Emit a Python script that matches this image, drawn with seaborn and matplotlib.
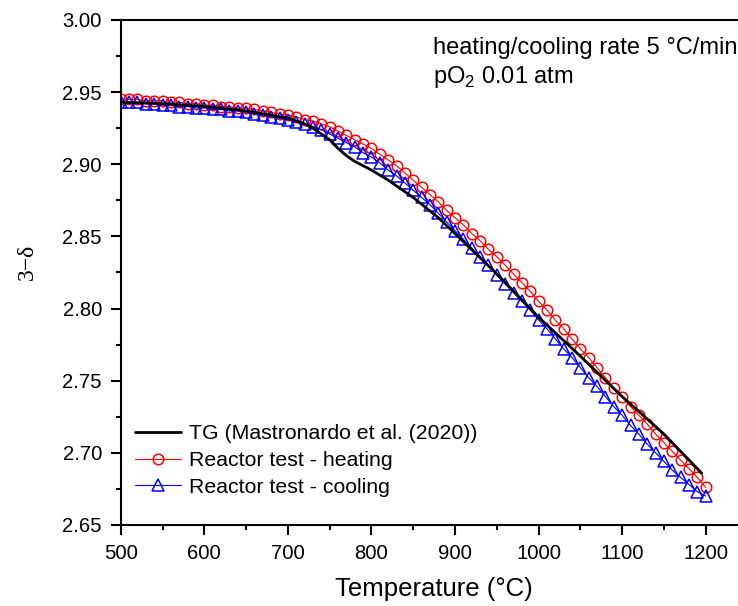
import matplotlib

matplotlib.use("Agg")
import matplotlib.pyplot as plt
import numpy as np
import pandas as pd
import seaborn as sns
from matplotlib.ticker import FixedLocator, FormatStrFormatter, MultipleLocator

# heating run (red circles), one point every 10 °C
heat_T = list(range(500, 1201, 10))
heat_val = [
    2.945, 2.945, 2.945, 2.944, 2.944, 2.944, 2.943, 2.943, 2.942, 2.942,
    2.941, 2.941, 2.940, 2.940, 2.939, 2.939, 2.938, 2.937, 2.936, 2.935,
    2.934, 2.933, 2.931, 2.930, 2.928, 2.926, 2.923, 2.920, 2.917, 2.914,
    2.911, 2.907, 2.903, 2.899, 2.894, 2.889, 2.884, 2.879, 2.874, 2.868,
    2.863, 2.858, 2.852, 2.847, 2.841, 2.836, 2.830, 2.824, 2.818, 2.812,
    2.805, 2.799, 2.792, 2.786, 2.779, 2.772, 2.766, 2.759, 2.752, 2.745,
    2.739, 2.732, 2.726, 2.720, 2.713, 2.707, 2.701, 2.695, 2.689, 2.683,
    2.676,
]

# cooling run (blue triangles)
cool_T = list(range(500, 1201, 10))
cool_val = [
    2.943, 2.943, 2.943, 2.942, 2.942, 2.941, 2.941, 2.940, 2.940, 2.939,
    2.939, 2.938, 2.938, 2.937, 2.937, 2.936, 2.935, 2.934, 2.933, 2.932,
    2.931, 2.929, 2.928, 2.926, 2.924, 2.921, 2.918, 2.915, 2.912, 2.908,
    2.905, 2.901, 2.896, 2.892, 2.887, 2.882, 2.877, 2.872, 2.866, 2.860,
    2.854, 2.848, 2.842, 2.836, 2.830, 2.823, 2.817, 2.811, 2.805, 2.799,
    2.792, 2.786, 2.779, 2.772, 2.766, 2.759, 2.752, 2.746, 2.739, 2.732,
    2.726, 2.719, 2.713, 2.706, 2.700, 2.694, 2.688, 2.683, 2.678, 2.673,
    2.670,
]

# TG curve (Mastronardo et al. 2020)
tg_T = [500, 550, 600, 650, 700, 720, 730, 740, 750, 760, 770, 780, 800,
        820, 850, 880, 900, 950, 1000, 1050, 1100, 1150, 1195]
tg_val = [2.943, 2.942, 2.940, 2.937, 2.932, 2.928, 2.925, 2.921, 2.917,
          2.911, 2.906, 2.902, 2.896, 2.889, 2.877, 2.863, 2.852, 2.824,
          2.794, 2.767, 2.739, 2.713, 2.686]

labels = ["TG (Mastronardo et al. (2020))",
          "Reactor test - heating",
          "Reactor test - cooling"]

sns.set_theme(style="ticks")
plt.rcParams["font.family"] = ["Liberation Sans", "DejaVu Sans"]
plt.rcParams["mathtext.fontset"] = "custom"
plt.rcParams["mathtext.rm"] = "Liberation Sans"
plt.rcParams["axes.linewidth"] = 1.5
for key in ["text.color", "axes.labelcolor", "axes.edgecolor",
            "xtick.color", "ytick.color", "xtick.labelcolor",
            "ytick.labelcolor"]:
    plt.rcParams[key] = "black"

df_heat = pd.DataFrame({"T": heat_T, "v": heat_val})
df_cool = pd.DataFrame({"T": cool_T, "v": cool_val})
df_tg = pd.DataFrame({"T": tg_T, "v": tg_val})

fig = plt.figure(figsize=(7.38, 6.06), dpi=100)
ax = fig.add_axes([0.1636, 0.1337, 0.8493, 0.8333])

sns.lineplot(data=df_heat, x="T", y="v", ax=ax, color="red", lw=0.8,
             marker="o", ms=7.6, mfc="none", mec="red", mew=1.1,
             sort=False, estimator=None, zorder=2)
sns.lineplot(data=df_cool, x="T", y="v", ax=ax, color="blue", lw=0.8,
             marker="^", ms=8.6, mfc="none", mec="blue", mew=1.1,
             sort=False, estimator=None, zorder=3)
sns.lineplot(data=df_tg, x="T", y="v", ax=ax, color="black", lw=2.0,
             sort=False, estimator=None, zorder=4)

lines = ax.get_lines()
ax.legend([lines[2], lines[0], lines[1]], labels, loc="lower left",
          bbox_to_anchor=(0.022, 0.056), borderaxespad=0, borderpad=0,
          frameon=False, fontsize=15.3, handlelength=2.2,
          handletextpad=0.35, labelspacing=0.36)

ax.set_xlim(500, 1250)
ax.set_ylim(2.65, 3.00)
ax.xaxis.set_major_locator(FixedLocator(list(range(500, 1201, 100))))
ax.xaxis.set_minor_locator(FixedLocator(list(range(550, 1251, 100))))
ax.yaxis.set_major_locator(MultipleLocator(0.05))
ax.yaxis.set_minor_locator(MultipleLocator(0.025))
ax.yaxis.set_major_formatter(FormatStrFormatter("%.2f"))
ax.tick_params(which="major", direction="out", length=7.0, width=1.5,
               labelsize=14.6, pad=6.5)
ax.tick_params(which="minor", direction="out", length=3.6, width=1.5)
ax.tick_params(top=False, right=False)

ax.set_xlabel("Temperature (°C)", fontsize=18.5)
ax.xaxis.set_label_coords(0.5, -0.103)
ax.set_ylabel("3\u2212\u03b4", family=["Liberation Serif", "DejaVu Serif"],
              fontsize=17)
ax.yaxis.set_label_coords(-0.132, 0.522)

ax.text(0.498, 0.933, "heating/cooling rate 5 °C/min", transform=ax.transAxes,
        fontsize=17, va="baseline", ha="left")
ax.text(0.498, 0.876, r"pO$_\mathregular{2}$ 0.01 atm", transform=ax.transAxes,
        fontsize=17, va="baseline", ha="left")

fig.savefig("out.png", dpi=100)
